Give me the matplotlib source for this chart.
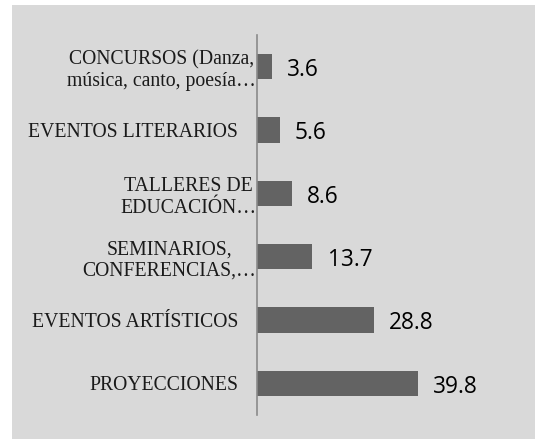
import numpy as np
import matplotlib
matplotlib.use("Agg")
import matplotlib.pyplot as plt
from matplotlib.patches import Rectangle
from matplotlib.transforms import ScaledTranslation

categories = [
    "PROYECCIONES",
    "EVENTOS ARTÍSTICOS",
    "SEMINARIOS,\nCONFERENCIAS,…",
    "TALLERES DE\nEDUCACIÓN…",
    "EVENTOS LITERARIOS",
    "CONCURSOS (Danza,\nmúsica, canto, poesía…",
]
values = [39.8, 28.8, 13.7, 8.6, 5.6, 3.6]

fig = plt.figure(figsize=(5.35, 4.41), dpi=100)
fig.patch.set_facecolor("white")
# gray panel behind the chart
fig.patches.append(Rectangle((12 / 535, 2 / 441), 1 - 12 / 535, 434 / 441,
                             transform=fig.transFigure, facecolor="#d9d9d9",
                             edgecolor="none", zorder=-10))

ax = fig.add_axes([257 / 535, 26 / 441, 263 / 535, 380 / 441])
ax.set_facecolor("none")
ax.set_zorder(5)

y = np.arange(len(categories))
bars = ax.barh(y, values, height=0.4, color="#636363")

ax.set_xlim(0, 65)
ax.set_ylim(-0.5, len(categories) - 0.5)
ax.set_xticks([])
ax.set_yticks(y)
ax.set_yticklabels(categories, fontsize=14.2, family="Liberation Serif",
                   multialignment="center", color="#1a1a1a")
ax.tick_params(axis="y", length=0, pad=13.5)

for spine in ["top", "right", "bottom"]:
    ax.spines[spine].set_visible(False)
ax.spines["left"].set_color("#8a8a8a")
ax.spines["left"].set_linewidth(1.2)

# wrapped labels overflow toward the axis with their ellipsis
for lab in ax.get_yticklabels():
    if "\n" in lab.get_text():
        lab.set_transform(lab.get_transform() + ScaledTranslation(0.18, 0, fig.dpi_scale_trans))

for yi, v in zip(y, values):
    ax.annotate(f"{v}", xy=(v, yi), xytext=(11, -2.5), textcoords="offset points",
                va="center", ha="left", fontsize=16.3, family="Open Sans",
                color="black")

plt.savefig("out.png", dpi=100, facecolor="white")
